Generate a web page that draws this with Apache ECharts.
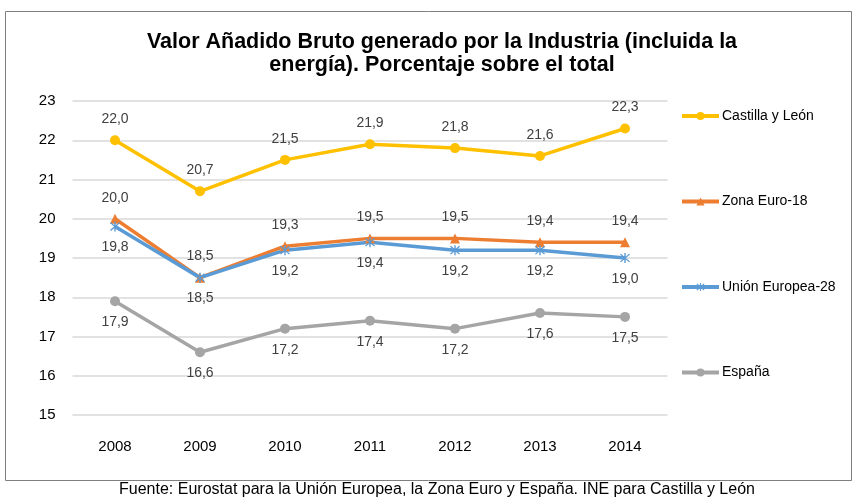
<!DOCTYPE html>
<html><head><meta charset="utf-8">
<script src="https://cdn.jsdelivr.net/npm/echarts@6/dist/echarts.min.js"></script>
<style>html,body{margin:0;padding:0;background:#fff}#c{width:853px;height:497px}</style>
</head><body><div id="c"></div>
<script>
const years = ['2008','2009','2010','2011','2012','2013','2014'];
const castilla = [22.0, 20.7, 21.5, 21.9, 21.8, 21.6, 22.3];
const zonaEuro = [20.0, 18.5, 19.3, 19.5, 19.5, 19.4, 19.4];
const unionEuropea = [19.8, 18.5, 19.2, 19.4, 19.2, 19.2, 19.0];
const espana = [17.9, 16.6, 17.2, 17.4, 17.2, 17.6, 17.5];
const names = ['Castilla y León','Zona Euro-18','Unión Europea-28','España'];
const titleText = 'Valor Añadido Bruto generado por la Industria (incluida la\nenergía). Porcentaje sobre el total';
const sourceText = 'Fuente: Eurostat para la Unión Europea, la Zona Euro y España. INE para Castilla y León';

const font = '"Liberation Sans", Arial, sans-serif';
const asterisk = 'path://M4.4 0L5.6 0L5.6 10L4.4 10Z M0.7 1.5L1.5 0.7L9.3 8.5L8.5 9.3Z M8.5 0.7L9.3 1.5L1.5 9.3L0.7 8.5Z';
const fmt = p => p.value.toFixed(1).replace('.', ',');

function mk(name, data, color, symbol, size, pos) {
  return {
    name, type: 'line', data, symbol, symbolSize: size,
    lineStyle: { color, width: 3.5 },
    itemStyle: { color },
    label: { show: true, position: pos, distance: 9, formatter: fmt, color: '#404040', fontSize: 14, fontFamily: font },
    z: 3
  };
}

const chart = echarts.init(document.getElementById('c'));
chart.setOption({
  animation: false,
  textStyle: { fontFamily: font },
  title: {
    text: titleText, left: 437, top: 26, textAlign: 'center',
    textStyle: { fontSize: 21.5, fontWeight: 'bold', color: '#000', lineHeight: 23, fontFamily: font }
  },
  graphic: [
    { type: 'rect', shape: { x: 5.5, y: 11.5, width: 846, height: 469 }, style: { fill: null, stroke: '#7f7f7f', lineWidth: 1 }, z: -1 },
    { type: 'text', x: 437, y: 482, style: { text: sourceText, fontSize: 16, fontFamily: font, fill: '#000', textAlign: 'center' } }
  ],
  legend: {
    orient: 'vertical', left: 675, top: 104, itemGap: 71.5, itemWidth: 37, itemHeight: 10,
    lineStyle: { width: 4 },
    textStyle: { fontSize: 14, color: '#000', fontFamily: font, padding: [0, 0, 0, -2] },
    data: names
  },
  grid: { left: 72.5, right: 185.5, top: 101, bottom: 82 },
  xAxis: {
    type: 'category', data: years, boundaryGap: true,
    axisLine: { show: false }, axisTick: { show: false },
    axisLabel: { color: '#000', fontSize: 15, margin: 24, fontFamily: font }
  },
  yAxis: {
    type: 'value', min: 15, max: 23, interval: 1,
    axisLine: { show: false }, axisTick: { show: false },
    axisLabel: { color: '#000', fontSize: 15, margin: 17, fontFamily: font },
    splitLine: { lineStyle: { color: '#d9d9d9', width: 1.5 } }
  },
  series: [
    mk(names[0], castilla, '#FFC000', 'circle', 10, 'top'),
    mk(names[1], zonaEuro, '#ED7D31', 'triangle', 10, 'top'),
    mk(names[2], unionEuropea, '#5B9BD5', asterisk, 10, 'bottom'),
    mk(names[3], espana, '#A5A5A5', 'circle', 10, 'bottom')
  ]
});
</script></body></html>
